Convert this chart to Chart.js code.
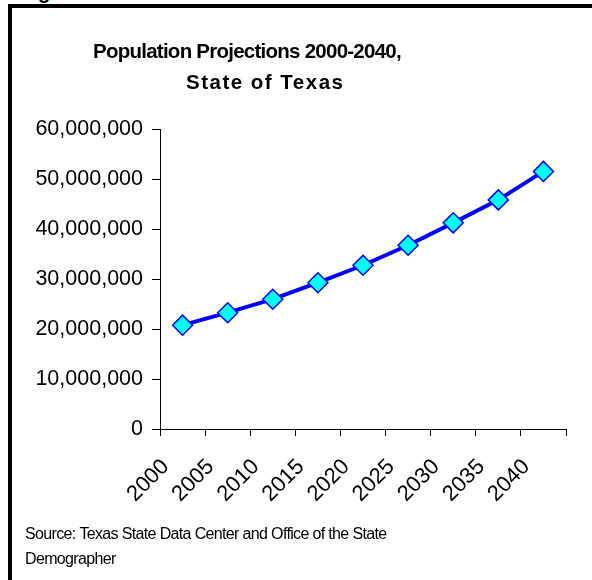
<!DOCTYPE html>
<html>
<head>
<meta charset="utf-8">
<title>Population Projections 2000-2040, State of Texas</title>
<script src="https://cdn.jsdelivr.net/npm/chart.js@4.4.1/dist/chart.umd.min.js"></script>
<style>
  html, body { margin: 0; padding: 0; background: #fff; }
  body { width: 592px; height: 580px; overflow: hidden; position: relative;
         font-family: "Liberation Sans", Arial, Helvetica, sans-serif; }
  #frame { position: absolute; left: 8px; top: 4px; right: 0; bottom: 0;
           border-left: 4px solid #000; border-top: 4px solid #000; }
  #wrap { position: absolute; left: 12px; top: 8px; width: 580px; height: 572px; }
  #fig { position: absolute; left: 38px; top: -18px; font-size: 20px; line-height: 20px;
         font-weight: bold; color: #000; margin: 0; }
</style>
</head>
<body>
<div id="fig">g</div>
<div id="frame"></div>
<div id="wrap"><canvas id="chart" width="580" height="572"></canvas></div>
<script>
// Projection years and projected population (persons)
const years = ['2000', '2005', '2010', '2015', '2020', '2025', '2030', '2035', '2040'];
const population = [20800000, 23300000, 26000000, 29300000, 32800000, 36800000, 41300000, 45900000, 51600000];

// Value axis range
const yMin = 0;
const yMax = 60000000;
const yStep = 10000000;

const titleLines = ['Population Projections 2000-2040,', 'State of Texas'];
const sourceLines = ['Source: Texas State Data Center and Office of the State', 'Demographer'];

const FONT = '"Liberation Sans", Arial, Helvetica, sans-serif';

// Free text blocks (heading and source note) drawn on the canvas
const textPlugin = {
  id: 'textBlocks',
  afterDraw(chart, args, opts) {
    const ctx = chart.ctx;
    opts.items.forEach(it => {
      ctx.save();
      ctx.font = it.font;
      ctx.fillStyle = '#000';
      ctx.textAlign = 'left';
      ctx.textBaseline = 'alphabetic';
      if ('letterSpacing' in ctx) ctx.letterSpacing = (it.spacing || 0) + 'px';
      ctx.fillText(it.text, it.x, it.y);
      ctx.restore();
    });
  }
};

const fmt = v => Number(v).toLocaleString('en-US');

new Chart(document.getElementById('chart'), {
  type: 'line',
  data: {
    labels: years,
    datasets: [{
      label: 'Population',
      data: population,
      borderColor: '#0000FF',
      borderWidth: 4,
      tension: 0,
      fill: false,
      pointStyle: 'rectRot',
      pointRadius: 10,
      pointBackgroundColor: '#00FFFF',
      pointBorderColor: '#0000FF',
      pointBorderWidth: 1.5,
      clip: false
    }]
  },
  options: {
    responsive: false,
    animation: false,
    layout: { padding: { left: 13, right: 26, top: 121.5, bottom: 60.5 } },
    scales: {
      x: {
        type: 'category',
        offset: true,
        grid: { offset: true, drawOnChartArea: false, drawTicks: true, tickLength: 7, color: '#000', lineWidth: 1 },
        border: { display: true, color: '#000', width: 1 },
        ticks: {
          autoSkip: false, minRotation: 45, maxRotation: 45,
          color: '#000', font: { family: FONT, size: 22 }, padding: 18, labelOffset: -17
        },
        afterFit(scale) { scale.height = 90.5; }
      },
      y: {
        min: yMin, max: yMax,
        grid: { drawOnChartArea: false, drawTicks: true, tickLength: 8, color: '#000', lineWidth: 1 },
        border: { display: true, color: '#000', width: 1 },
        ticks: {
          stepSize: yStep, color: '#000', padding: 9,
          font: { family: FONT, size: 21.5 },
          callback: v => fmt(v)
        },
        afterFit(scale) { scale.width = 135; }
      }
    },
    plugins: {
      legend: { display: false },
      tooltip: { enabled: false },
      title: { display: false },
      textBlocks: {
        items: [
          { text: titleLines[0], x: 81, y: 50, font: 'bold 20.5px ' + FONT, spacing: -0.75 },
          { text: titleLines[1], x: 174, y: 81, font: 'bold 20.5px ' + FONT, spacing: 1.5 },
          { text: sourceLines[0], x: 13, y: 531, font: '16px ' + FONT, spacing: -0.65 },
          { text: sourceLines[1], x: 13, y: 555.5, font: '16px ' + FONT, spacing: -0.65 }
        ]
      }
    }
  },
  plugins: [textPlugin]
});
</script>
</body>
</html>
